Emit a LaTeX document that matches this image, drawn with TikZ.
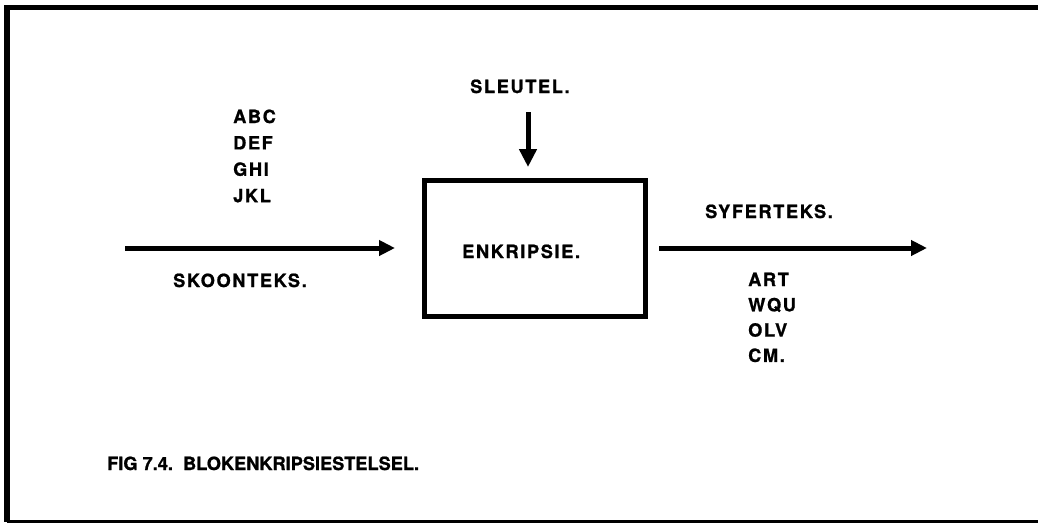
\documentclass[tikz,border=0pt]{standalone}
\usepackage{fontspec}
\newfontfamily\blokfont{TeX Gyre Heros}[LetterSpace=9, FakeBold=1]
\newfontfamily\figfont{TeX Gyre Heros}[FakeBold=1]
\usetikzlibrary{arrows.meta}

\begin{document}
\begin{tikzpicture}[
  x=1pt, y=1pt,
  lbl/.style={anchor=base west, inner sep=0pt, text=black,
    font=\blokfont\bfseries\fontsize{18.2}{20}\selectfont},
  blok/.style={draw=black, line width=5pt, minimum width=221pt, minimum height=136pt},
  pijl/.style={draw=black, line width=5pt, -{Triangle[length=16pt,width=15pt]}},
  rand/.style={draw=black}
]
\useasboundingbox (0,0) rectangle (1038,-523);

% frame
\draw[rand, line width=5.5pt] (1038,-7.5) -- (7,-7.5) -- (7,-521.5);
\draw[rand, line width=3pt] (7,-521.5) -- (1038,-521.5);

% block
\node[blok] (enc) at (534.5,-248) {};
\node[lbl] (enclbl) at (462,-258) {ENKRIPSIE.};

% key
\node[lbl] (sleutel) at (470,-93) {SLEUTEL.};
\coordinate (ktop) at (528,-112);
\draw[pijl, shorten >=10.5pt, -{Triangle[length=18pt,width=17pt]}] (ktop) -- (ktop |- enc.north);

% plain text in
\coordinate (inpunt) at (125,-248);
\draw[pijl, shorten >=26.5pt] (inpunt) -- (enc.west);
\foreach \w [count=\i] in {ABC,DEF,GHI,JKL}
  \node[lbl] (skoon\i) at (233,{-123-26.4*(\i-1)}) {\w};
\node[lbl] (skoonlbl) at (173,-287) {SKOONTEKS.};

% cipher text out
\coordinate (uitpunt) at (927,-248);
\draw[pijl, shorten <=11.5pt] (enc.east) -- (uitpunt);
\node[lbl] (syferlbl) at (705,-218) {SYFERTEKS.};
\foreach \w [count=\i] in {ART,WQU,OLV,CM.}
  \node[lbl] (syfer\i) at (748,{-286-25.3*(\i-1)}) {\w};

% caption
\node[lbl, font=\figfont\bfseries\fontsize{18.2}{20}\selectfont] (fig) at (107,-470)
  {FIG 7.4.\ \ BLOKENKRIPSIESTELSEL.};
\end{tikzpicture}
\end{document}
